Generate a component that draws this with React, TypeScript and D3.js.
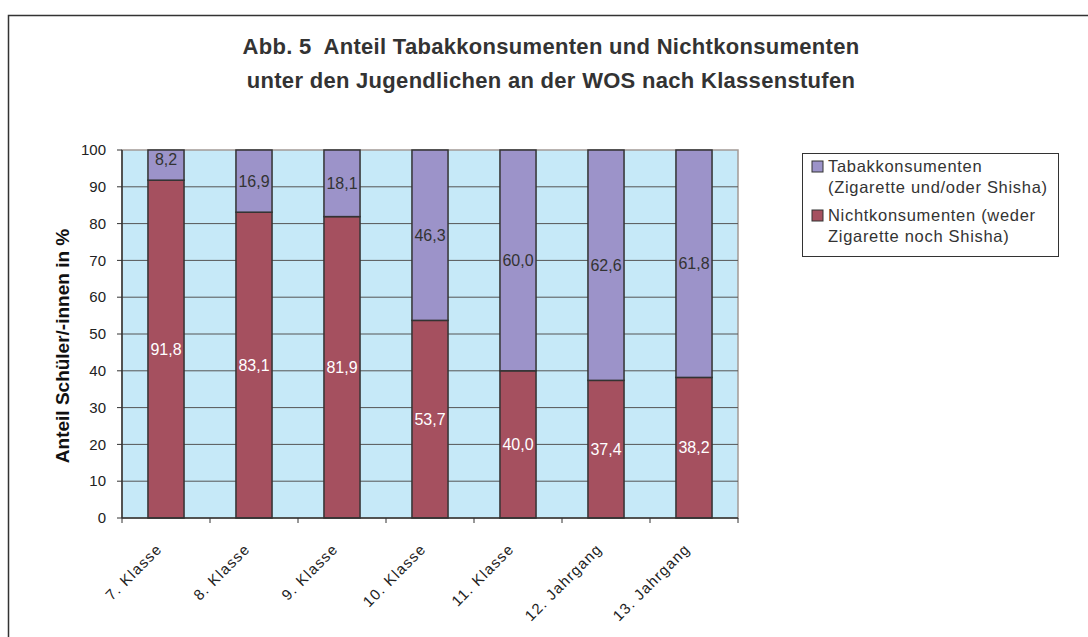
import React from "react";
import * as d3 from "d3";

// Klassenstufen
const categories = [
  "7. Klasse",
  "8. Klasse",
  "9. Klasse",
  "10. Klasse",
  "11. Klasse",
  "12. Jahrgang",
  "13. Jahrgang",
];
// Nichtkonsumenten (weder Zigarette noch Shisha), in %
const nichtkonsumenten = [91.8, 83.1, 81.9, 53.7, 40.0, 37.4, 38.2];
// Tabakkonsumenten (Zigarette und/oder Shisha), in %
const tabakkonsumenten = [8.2, 16.9, 18.1, 46.3, 60.0, 62.6, 61.8];
const yTicks = [0, 10, 20, 30, 40, 50, 60, 70, 80, 90, 100];

const legendItems = [
  { lines: ["Tabakkonsumenten", "(Zigarette und/oder Shisha)"], color: "#9c93c9" },
  { lines: ["Nichtkonsumenten (weder", "Zigarette noch Shisha)"], color: "#a5505f" },
];

const W = 1088;
const H = 637;
const plot = { left: 122, right: 738, top: 150, bottom: 518 };
const font = "'Liberation Sans', Arial, sans-serif";
const fmt = (v: number) => v.toFixed(1).replace(".", ",");

export default function App() {
  const x = d3
    .scaleBand()
    .domain(categories)
    .range([plot.left, plot.right])
    .padding(0);
  const y = d3.scaleLinear().domain([0, 100]).range([plot.bottom, plot.top]);
  const barW = x.bandwidth() * 0.41;

  const rows = categories.map((c, i) => ({
    cat: c,
    nicht: nichtkonsumenten[i],
    tabak: tabakkonsumenten[i],
  }));

  return (
    <div style={{ position: "absolute", left: 0, top: 0 }}>
      <svg width={W} height={H} style={{ display: "block", background: "#fff" }}>
        {/* outer frame */}
        <rect x={8.5} y={15.5} width={W + 20} height={H + 20} fill="#fff" stroke="#333" strokeWidth={1.5} />

        {/* title */}
        <g fontFamily={font} fontWeight="bold" fontSize={22} fill="#333" textAnchor="middle" letterSpacing={0.3}>
          <text x={551} y={54}>{"Abb. 5\u00a0 Anteil Tabakkonsumenten und Nichtkonsumenten"}</text>
          <text x={551} y={88}>unter den Jugendlichen an der WOS nach Klassenstufen</text>
        </g>

        {/* plot background */}
        <rect
          x={plot.left}
          y={plot.top}
          width={plot.right - plot.left}
          height={plot.bottom - plot.top}
          fill="#c6e9f8"
          stroke="#a39a96"
          strokeWidth={1.5}
        />

        {/* gridlines */}
        {yTicks.slice(1, -1).map((t) => (
          <line key={t} x1={plot.left} x2={plot.right} y1={y(t)} y2={y(t)} stroke="#555" strokeWidth={1} />
        ))}

        {/* bars */}
        {rows.map((r) => {
          const bx = (x(r.cat) as number) + (x.bandwidth() - barW) / 2;
          return (
            <g key={r.cat}>
              <rect
                x={bx}
                y={y(r.nicht)}
                width={barW}
                height={y(0) - y(r.nicht)}
                fill="#a5505f"
                stroke="#333"
                strokeWidth={1.5}
              />
              <rect
                x={bx}
                y={y(r.nicht + r.tabak)}
                width={barW}
                height={y(r.nicht) - y(r.nicht + r.tabak)}
                fill="#9c93c9"
                stroke="#333"
                strokeWidth={1.5}
              />
            </g>
          );
        })}

        {/* data labels */}
        <g fontFamily={font} fontSize={16} textAnchor="middle">
          {rows.map((r) => {
            const cx = (x(r.cat) as number) + x.bandwidth() / 2;
            const mid = y(r.nicht + r.tabak / 2);
            return (
              <g key={r.cat}>
                <text x={cx} y={y(r.nicht / 2)} dy="0.35em" fill="#fff">
                  {fmt(r.nicht)}
                </text>
                <text x={cx} y={r.tabak < 10 ? mid - 6 : mid} dy="0.35em" fill="#333">
                  {fmt(r.tabak)}
                </text>
              </g>
            );
          })}
        </g>

        {/* y axis */}
        <line x1={plot.left} x2={plot.left} y1={plot.top} y2={plot.bottom} stroke="#333" strokeWidth={1.5} />
        <g fontFamily={font} fontSize={15} fill="#222" textAnchor="end">
          {yTicks.map((t) => (
            <g key={t}>
              <line x1={plot.left - 5} x2={plot.left} y1={y(t)} y2={y(t)} stroke="#333" />
              <text x={plot.left - 16} y={y(t)} dy="0.35em">
                {t}
              </text>
            </g>
          ))}
        </g>
        <text
          transform={`translate(69,${(plot.top + plot.bottom) / 2 + 12}) rotate(-90)`}
          textAnchor="middle"
          fontFamily={font}
          fontWeight="bold"
          fontSize={19}
          fill="#111"
        >
          Anteil Schüler/-innen in %
        </text>

        {/* x axis */}
        <line x1={plot.left} x2={plot.right} y1={plot.bottom} y2={plot.bottom} stroke="#333" strokeWidth={1.5} />
        {categories.map((c, i) => (
          <line
            key={c}
            x1={plot.left + i * x.bandwidth()}
            x2={plot.left + i * x.bandwidth()}
            y1={plot.bottom}
            y2={plot.bottom + 5}
            stroke="#333"
          />
        ))}
        <line x1={plot.right} x2={plot.right} y1={plot.bottom} y2={plot.bottom + 5} stroke="#333" />
        <g fontFamily={font} fontSize={15} fill="#222" textAnchor="end" letterSpacing={1.2}>
          {categories.map((c) => {
            const cx = (x(c) as number) + x.bandwidth() / 2;
            return (
              <text key={c} transform={`translate(${cx - 3},${plot.bottom + 32}) rotate(-45)`}>
                {c}
              </text>
            );
          })}
        </g>

        {/* legend */}
        <rect x={802.5} y={153.5} width={256} height={103} fill="#fff" stroke="#333" strokeWidth={1} />
        <g fontFamily={font} fontSize={16.5} fill="#333" letterSpacing={0.7}>
          {legendItems.map((it, i) => (
            <g key={i}>
              <rect x={812} y={161 + i * 49} width={11} height={11} fill={it.color} stroke="#333" strokeWidth={1} />
              {it.lines.map((l, j) => (
                <text key={j} x={828} y={166 + i * 49 + j * 21.5} dy="0.35em">
                  {l}
                </text>
              ))}
            </g>
          ))}
        </g>
      </svg>
    </div>
  );
}
